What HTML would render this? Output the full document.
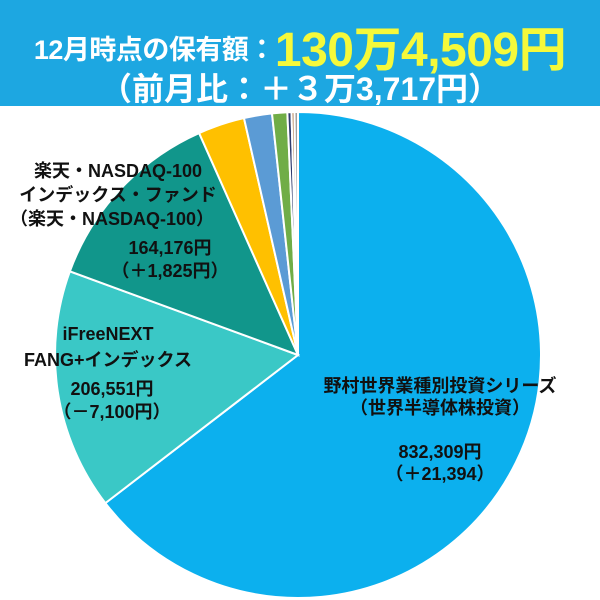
<!DOCTYPE html>
<html><head><meta charset="utf-8">
<style>
body{margin:0;width:600px;height:600px;background:#fff;overflow:hidden;font-family:"Liberation Sans","Noto Sans CJK JP",sans-serif;}
#hdr{position:absolute;left:0;top:0;width:600px;height:106px;background:#1da7e1;color:#fff;font-weight:bold;text-align:center}
svg{position:absolute;left:0;top:0}
.lbl{font-weight:bold;font-size:18px;fill:#111;text-anchor:middle}
</style></head><body>
<div id="hdr">
 <div style="position:absolute;left:0;top:10px;width:600px;white-space:nowrap;letter-spacing:-0.5px"><span style="font-size:27px;vertical-align:7px">12月時点の保有額：</span><span style="font-size:48px;color:#f5f93a">130万4,509円</span></div>
 <div style="position:absolute;left:0;top:64px;width:600px;font-size:32px;white-space:nowrap">（前月比：＋３万3,717円）</div>
</div>
<svg id="chart" width="600" height="600"></svg>
<script>
const categories=["野村世界業種別投資シリーズ","iFreeNEXT FANG+インデックス","楽天・NASDAQ-100","fund-4","fund-5","fund-6","fund-7","fund-8","fund-9"];
const values=[832309,206551,164176,40000,24000,13000,3500,2500,3000];
const colors=["#0cb0ee","#3ac8c6","#11968b","#ffc000","#5b9bd5","#70ad47","#2f3b6e","#b07a4a","#a0a0a0"];
const cx=298,cy=355,r=243;
const svg=document.getElementById('chart');
const NS='http://www.w3.org/2000/svg';
const total=values.reduce((a,b)=>a+b,0);
function pt(a){return [cx+r*Math.sin(a),cy-r*Math.cos(a)];}
let acc=0;
values.forEach((v,i)=>{
 const a0=acc/total*2*Math.PI; acc+=v; const a1=acc/total*2*Math.PI;
 const p0=pt(a0),p1=pt(a1);
 const p=document.createElementNS(NS,'path');
 p.setAttribute('d',`M${cx},${cy}L${p0[0]},${p0[1]}A${r},${r} 0 ${a1-a0>Math.PI?1:0} 1 ${p1[0]},${p1[1]}Z`);
 p.setAttribute('fill',colors[i]);p.setAttribute('stroke','#fff');p.setAttribute('stroke-width','2');
 
 
 svg.appendChild(p);
});
const labels=[
 ["野村世界業種別投資シリーズ",440,392],["（世界半導体株投資）",440,414],["832,309円",440,458],["（＋21,394）",440,480],
 ["iFreeNEXT",108,340],["FANG+インデックス",108,366],["206,551円",112,395],["（－7,100円）",112,418],
 ["楽天・NASDAQ-100",118,177],["インデックス・ファンド",118,201],["（楽天・NASDAQ-100）",112,225],["164,176円",170,254],["（＋1,825円）",170,277]
];
labels.forEach((l,i)=>{
 const t=document.createElementNS(NS,'text');
 t.setAttribute('x',l[1]);t.setAttribute('y',l[2]);t.setAttribute('class','lbl');
 t.textContent=l[0];
 
 
 svg.appendChild(t);
});
</script>
</body></html>
